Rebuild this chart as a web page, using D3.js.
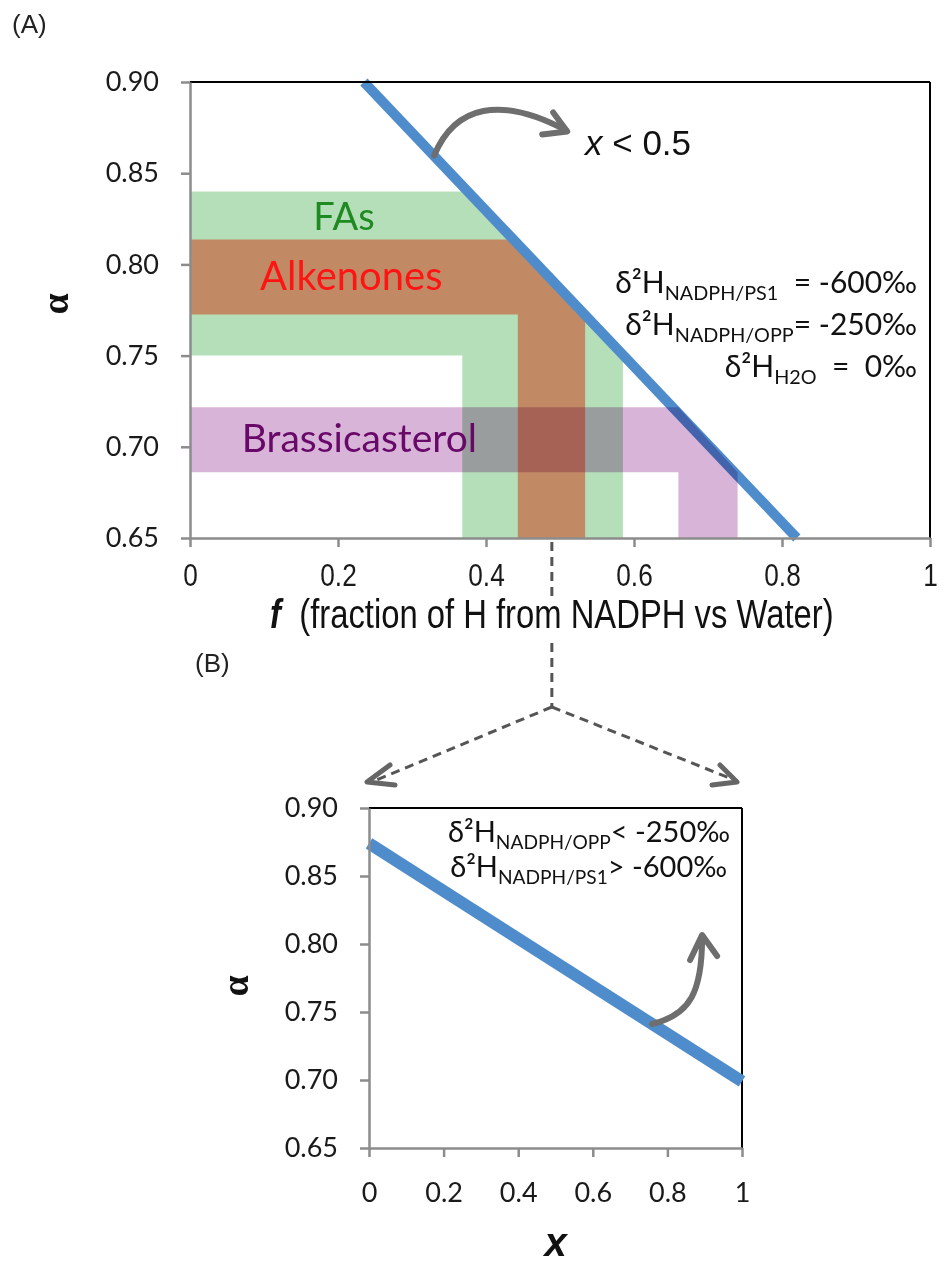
<!DOCTYPE html>
<html>
<head>
<meta charset="utf-8">
<script src="https://cdn.jsdelivr.net/npm/d3@7"></script>
<style>
  body { margin: 0; background: #fff; }
  svg text { white-space: pre; }
</style>
</head>
<body>
<div id="chart"></div>
<script>
// Panel A data
const fTicks = [0, 0.2, 0.4, 0.6, 0.8, 1]
const alphaTicks = [0.65, 0.7, 0.75, 0.8, 0.85, 0.9]
const bandNames = ["FAs", "Alkenones", "Brassicasterol"]
const bandAlphaLo = [0.75, 0.7725, 0.686]
const bandAlphaHi = [0.84, 0.8136, 0.7217]
const bandFLo = [0.368, 0.443, 0.66]
const bandFHi = [0.585, 0.534, 0.74]
const lineAf = [0.235, 0.82]
const lineAalpha = [0.9, 0.65]
const fMark = 0.489 // dashed guide, middle of the alkenone range

// Panel B data
const xTicks = [0, 0.2, 0.4, 0.6, 0.8, 1]
const lineBx = [0, 1]
const lineBalpha = [0.874, 0.699]

const width = 944
const height = 1266
const svg = d3.select("#chart").append("svg").attr("width", width).attr("height", height)

const calibri = "Lato, 'Open Sans', sans-serif"
const arial = "'Liberation Sans', Arial, sans-serif"
const gray = "#8c8c8c"
const blue = "#4f8ccc"
const arrowGray = "#6e6e6e"

// ---------- Panel A ----------
const fx = d3.scaleLinear().domain([0, 1]).range([190, 930])
const ay = d3.scaleLinear().domain([0.65, 0.9]).range([538, 82])

svg.append("text").attr("x", 12).attr("y", 33).attr("font-family", arial).attr("font-size", 26).attr("fill", "#222").text("(A)")

const gA = svg.append("g")

// bands as L shapes hugging the blue line
const bandFill = ["#b5dfb9", "#c28a64", "#d9b4d9"]
const bandPts = bandNames.map((n, i) => [
  [0, bandAlphaHi[i]],
  [bandFLo[i], bandAlphaHi[i]],
  [bandFHi[i], bandAlphaLo[i]],
  [bandFHi[i], 0.65],
  [bandFLo[i], 0.65],
  [bandFLo[i], bandAlphaLo[i]],
  [0, bandAlphaLo[i]],
])
const poly = d3.line().x((d) => fx(d[0])).y((d) => ay(d[1]))

gA.selectAll("path.band")
  .data(bandPts.slice(0, 2))
  .join("path")
  .attr("class", "band")
  .attr("d", (d) => poly(d) + "Z")
  .attr("fill", (d, i) => bandFill[i])

gA.append("line")
  .attr("x1", fx(lineAf[0])).attr("y1", ay(lineAalpha[0]))
  .attr("x2", fx(lineAf[1])).attr("y2", ay(lineAalpha[1]))
  .attr("stroke", blue).attr("stroke-width", 10)

gA.append("path")
  .attr("d", poly(bandPts[2]) + "Z")
  .attr("fill", bandFill[2])
  .style("mix-blend-mode", "multiply")

// frame
gA.append("line").attr("x1", fx(0)).attr("x2", fx(1)).attr("y1", ay(0.9)).attr("y2", ay(0.9)).attr("stroke", "#000").attr("stroke-width", 2)
gA.append("line").attr("x1", fx(1)).attr("x2", fx(1)).attr("y1", ay(0.9)).attr("y2", ay(0.65)).attr("stroke", "#000").attr("stroke-width", 2)

const yAxisA = gA.append("g").attr("transform", `translate(${fx(0)},0)`)
  .call(d3.axisLeft(ay).tickValues(alphaTicks).tickSize(9).tickSizeOuter(0).tickPadding(22).tickFormat(d3.format(".2f")))
const xAxisA = gA.append("g").attr("transform", `translate(0,${ay(0.65)})`)
  .call(d3.axisBottom(fx).tickValues(fTicks).tickSize(9).tickSizeOuter(0).tickPadding(16).tickFormat((d) => String(d)))

;[yAxisA, xAxisA].forEach((ax) => {
  ax.select(".domain").attr("stroke", gray).attr("stroke-width", 2.5)
  ax.selectAll(".tick line").attr("stroke", gray).attr("stroke-width", 2.5)
})
yAxisA.selectAll("text").attr("font-family", calibri).attr("font-size", 27).attr("fill", "#1a1a1a")
xAxisA.selectAll("text").attr("font-family", arial).attr("font-size", 32).attr("fill", "#1a1a1a").attr("transform", "scale(0.82,1)")

// band labels
const labelColor = ["#1f8a22", "#ff1414", "#680868"]
const labelSize = [38, 40, 39]
const labelF = [0.208, 0.218, 0.07]
const labelAlpha = [0.819, 0.786, 0.697]
const labelAnchor = ["middle", "middle", "start"]
bandNames.forEach((n, i) => {
  gA.append("text")
    .attr("x", fx(labelF[i]))
    .attr("y", ay(labelAlpha[i]))
    .attr("text-anchor", labelAnchor[i])
    .attr("font-family", calibri).attr("font-size", labelSize[i]).attr("fill", labelColor[i])
    .text(n)
})

// x < 0.5 callout
const arrowA = d3.path()
const a0 = [fx(0.33), ay(1 - 0.425 * 0.33)]
arrowA.moveTo(a0[0], a0[1])
arrowA.bezierCurveTo(a0[0] + 21, a0[1] - 50, a0[0] + 66, a0[1] - 60, a0[0] + 132, a0[1] - 25)
gA.append("path").attr("d", arrowA.toString()).attr("fill", "none").attr("stroke", arrowGray).attr("stroke-width", 6).attr("stroke-linecap", "round")
gA.append("path")
  .attr("d", `M${a0[0] + 119},${a0[1] - 43}L${a0[0] + 133},${a0[1] - 24}L${a0[0] + 108},${a0[1] - 21}`)
  .attr("fill", "none").attr("stroke", arrowGray).attr("stroke-width", 6).attr("stroke-linecap", "round").attr("stroke-linejoin", "round")

const xlt = gA.append("text").attr("x", 585).attr("y", 155).attr("font-family", arial).attr("font-size", 35).attr("fill", "#111")
xlt.append("tspan").attr("font-style", "italic").text("x")
xlt.append("tspan").text(" < 0.5")

function deltaText(parent, x, y, sub, rest, size) {
  const t = parent.append("text").attr("x", x).attr("y", y).attr("text-anchor", "end")
    .attr("font-family", calibri).attr("font-size", size).attr("fill", "#111")
  t.append("tspan").text("δ²H")
  t.append("tspan").attr("font-size", size * 0.66).attr("dy", size * 0.24).text(sub)
  t.append("tspan").attr("dy", -size * 0.24).text(rest)
}
deltaText(gA, 917, 293, "NADPH/PS1", "  = -600‰", 30)
deltaText(gA, 917, 335, "NADPH/OPP", "= -250‰", 30)
deltaText(gA, 917, 377, "H2O", "  =  0‰", 30)

gA.append("text")
  .attr("transform", `translate(68,304) rotate(-90)`)
  .attr("text-anchor", "middle")
  .attr("font-family", "'Liberation Serif', serif").attr("font-weight", "bold").attr("font-size", 38).attr("fill", "#111")
  .text("α")

const sx = 0.82
const xl = gA.append("text").attr("x", fx(fMark) / sx).attr("y", 628).attr("text-anchor", "middle")
  .attr("font-family", arial).attr("font-size", 40).attr("fill", "#111")
  .attr("transform", `scale(${sx},1)`)
xl.append("tspan").attr("font-weight", "bold").attr("font-style", "italic").text("f")
xl.append("tspan").text("  (fraction of H from NADPH vs Water)")

// ---------- connectors ----------
const dash = svg.append("g").attr("stroke", "#555").attr("stroke-width", 3).attr("stroke-dasharray", "9,6").attr("fill", "none")
const mx = fx(fMark)
const apexY = 707
dash.append("line").attr("x1", mx).attr("x2", mx).attr("y1", ay(0.65) + 4).attr("y2", 596)
dash.append("line").attr("x1", mx).attr("x2", mx).attr("y1", 643).attr("y2", apexY)

// ---------- Panel B ----------
const bx = d3.scaleLinear().domain([0, 1]).range([369, 742])
const by = d3.scaleLinear().domain([0.65, 0.9]).range([1148, 808])

svg.append("text").attr("x", 195).attr("y", 672).attr("font-family", arial).attr("font-size", 26).attr("fill", "#222").text("(B)")

dash.append("line").attr("x1", mx).attr("y1", apexY).attr("x2", bx(0) + 5).attr("y2", by(0.9) - 27)
dash.append("line").attr("x1", mx).attr("y1", apexY).attr("x2", bx(1) - 5).attr("y2", by(0.9) - 27)
const heads = svg.append("g").attr("stroke", "#666").attr("stroke-width", 5).attr("fill", "none").attr("stroke-linecap", "round").attr("stroke-linejoin", "round")
heads.append("path").attr("d", `M${bx(0) + 21},${by(0.9) - 43}L${bx(0) - 2},${by(0.9) - 26}L${bx(0) + 26},${by(0.9) - 23}`)
heads.append("path").attr("d", `M${bx(1) - 22},${by(0.9) - 43}L${bx(1) - 5},${by(0.9) - 26}L${bx(1) - 30},${by(0.9) - 23}`)

const gB = svg.append("g")
gB.append("line").attr("x1", bx(0)).attr("x2", bx(1)).attr("y1", by(0.9)).attr("y2", by(0.9)).attr("stroke", "#000").attr("stroke-width", 2)
gB.append("line").attr("x1", bx(1)).attr("x2", bx(1)).attr("y1", by(0.9)).attr("y2", by(0.65)).attr("stroke", "#000").attr("stroke-width", 2)

gB.append("line")
  .attr("x1", bx(lineBx[0])).attr("y1", by(lineBalpha[0]))
  .attr("x2", bx(lineBx[1])).attr("y2", by(lineBalpha[1]))
  .attr("stroke", blue).attr("stroke-width", 12)

const yAxisB = gB.append("g").attr("transform", `translate(${bx(0)},0)`)
  .call(d3.axisLeft(by).tickValues(alphaTicks).tickSize(9).tickSizeOuter(0).tickPadding(22).tickFormat(d3.format(".2f")))
const xAxisB = gB.append("g").attr("transform", `translate(0,${by(0.65)})`)
  .call(d3.axisBottom(bx).tickValues(xTicks).tickSize(9).tickSizeOuter(0).tickPadding(26).tickFormat((d) => String(d)))
;[yAxisB, xAxisB].forEach((ax) => {
  ax.select(".domain").attr("stroke", gray).attr("stroke-width", 2.5)
  ax.selectAll(".tick line").attr("stroke", gray).attr("stroke-width", 2.5)
})
yAxisB.selectAll("text").attr("font-family", calibri).attr("font-size", 27).attr("fill", "#1a1a1a")
xAxisB.selectAll("text").attr("font-family", calibri).attr("font-size", 27).attr("fill", "#1a1a1a")

deltaText(gB, 730, 842, "NADPH/OPP", "< -250‰", 29)
deltaText(gB, 727, 877, "NADPH/PS1", "> -600‰", 29)

const b0 = [bx(0.759), by(0.874 - 0.175 * 0.759)]
const arrowB = d3.path()
arrowB.moveTo(b0[0], b0[1])
arrowB.bezierCurveTo(b0[0] + 38, b0[1] - 9, b0[0] + 50, b0[1] - 32, b0[0] + 50, b0[1] - 87)
gB.append("path").attr("d", arrowB.toString()).attr("fill", "none").attr("stroke", arrowGray).attr("stroke-width", 6).attr("stroke-linecap", "round")
gB.append("path")
  .attr("d", `M${b0[0] + 38},${b0[1] - 64}L${b0[0] + 50},${b0[1] - 89}L${b0[0] + 65},${b0[1] - 68}`)
  .attr("fill", "none").attr("stroke", arrowGray).attr("stroke-width", 6).attr("stroke-linecap", "round").attr("stroke-linejoin", "round")

gB.append("text")
  .attr("transform", `translate(248,986) rotate(-90)`)
  .attr("text-anchor", "middle")
  .attr("font-family", "'Liberation Serif', serif").attr("font-weight", "bold").attr("font-size", 38).attr("fill", "#111")
  .text("α")

gB.append("text").attr("x", bx(0.5)).attr("y", 1256).attr("text-anchor", "middle")
  .attr("font-family", arial).attr("font-weight", "bold").attr("font-style", "italic").attr("font-size", 40).attr("fill", "#111")
  .text("x")
</script>
</body>
</html>
